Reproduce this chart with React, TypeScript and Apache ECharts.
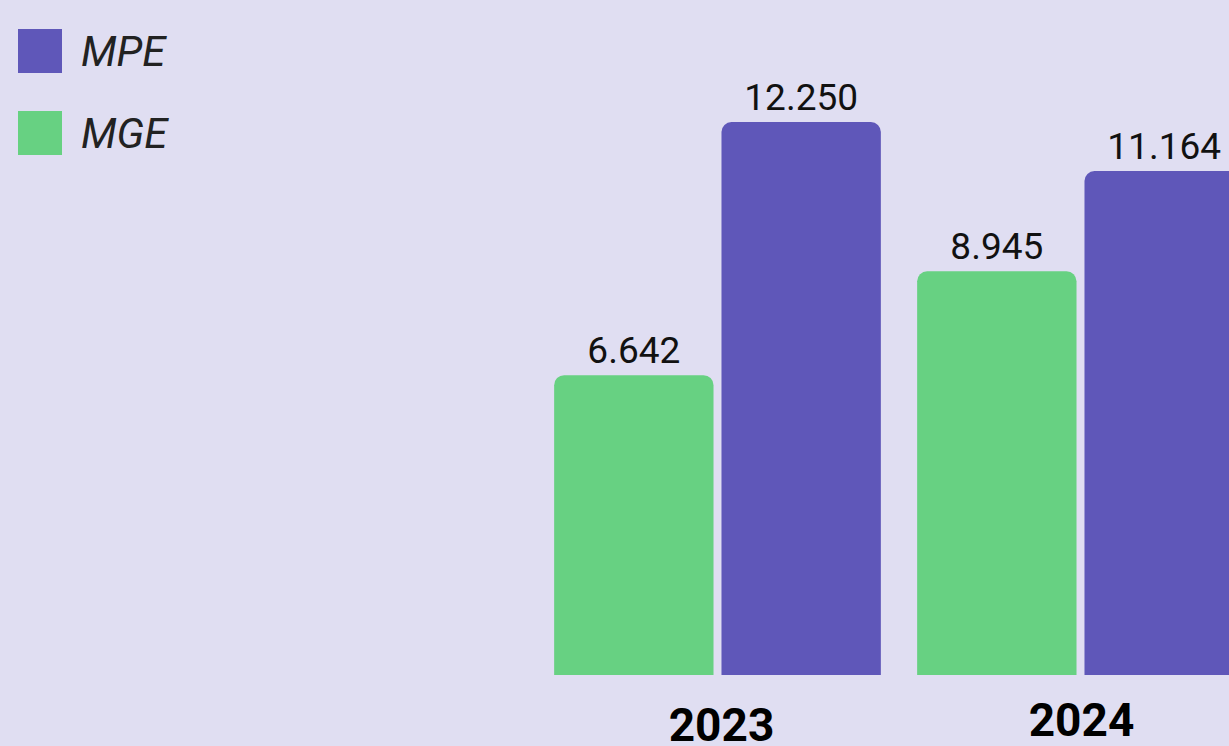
import React, { useEffect, useRef } from "react";
import * as echarts from "echarts";

const categories = ["2023", "2024"];
const mgeValues = [6642, 8945];
const mpeValues = [12250, 11164];
const legendNames = ["MPE", "MGE"];

const fmt = (v: number) => String(v).replace(/\B(?=(\d{3})+(?!\d))/g, ".");

export default function App() {
  const ref = useRef<HTMLDivElement>(null);
  useEffect(() => {
    if (!ref.current) return;
    const chart = echarts.init(ref.current, null, { renderer: "svg" });
    const labelCfg = {
      show: true,
      position: "top",
      distance: 6,
      fontFamily: "Roboto",
      fontSize: 37,
      color: "#111111",
      formatter: (p: any) => fmt(p.value),
    };
    chart.setOption({
      animation: false,
      backgroundColor: "#E0DEF2",
      textStyle: { fontFamily: "Roboto" },
      legend: {
        data: legendNames,
        orient: "vertical",
        left: 13,
        top: 24,
        itemWidth: 44,
        itemHeight: 44,
        itemGap: 38,
        icon: "rect",
        textStyle: {
          fontFamily: "Roboto",
          fontStyle: "italic",
          fontSize: 42,
          color: "#222222",
          padding: [2, 0, 0, 14],
        },
      },
      grid: {
        left: 536,
        top: 43,
        width: 726,
        height: 632,
        containLabel: false,
        outerBoundsMode: "none",
      },
      xAxis: {
        type: "category",
        data: [
          { value: categories[0], textStyle: { padding: [5, 0, 0, 8] } },
          { value: categories[1], textStyle: { padding: [0, 0, 0, 2] } },
        ],
        axisLine: { show: false },
        axisTick: { show: false },
        axisLabel: {
          margin: 22,
          fontFamily: "Roboto",
          fontWeight: "bold",
          fontSize: 46,
          color: "#000000",
          verticalAlign: "top",
        },
      },
      yAxis: {
        type: "value",
        min: 0,
        max: 14000,
        show: false,
        splitLine: { show: false },
      },
      series: [
        {
          name: "MGE",
          type: "bar",
          data: mgeValues,
          barCategoryGap: "10%",
          barGap: "5%",
          itemStyle: { color: "#67D182", borderRadius: [10, 10, 0, 0] },
          label: labelCfg,
        },
        {
          name: "MPE",
          type: "bar",
          data: mpeValues,
          barCategoryGap: "10%",
          barGap: "5%",
          itemStyle: { color: "#5F57B9", borderRadius: [10, 10, 0, 0] },
          label: labelCfg,
        },
      ],
    });
    return () => chart.dispose();
  }, []);
  return (
    <div
      ref={ref}
      style={{ position: "absolute", left: 0, top: 0, width: 1229, height: 746 }}
    />
  );
}
